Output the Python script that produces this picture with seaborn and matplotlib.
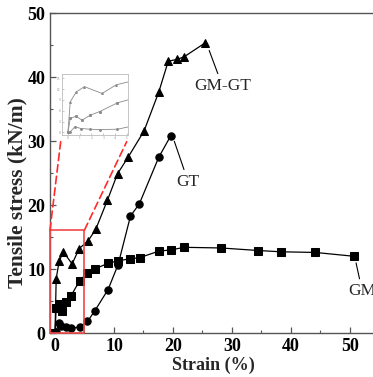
import matplotlib
matplotlib.use("Agg")
import matplotlib.pyplot as plt
import seaborn as sns
from matplotlib.patches import Rectangle, ConnectionPatch
from matplotlib.ticker import MultipleLocator

# GM-GT (triangles)
gmgt_x = [0, 0.2, 0.7, 1.4, 2.9, 4.1, 5.6, 6.9, 8.9, 10.6, 12.4, 15.1, 17.6, 19.2, 20.7, 21.9, 25.5]
gmgt_y = [0, 8.5, 11.2, 12.7, 10.8, 13.2, 14.4, 16.2, 20.8, 24.9, 27.5, 31.6, 37.7, 42.5, 42.8, 43.2, 45.4]
# GT (circles)
gt_x = [0.2, 0.6, 1.1, 1.9, 2.7, 4.2, 5.5, 6.7, 9.0, 10.7, 12.8, 14.3, 17.6, 19.6]
gt_y = [0.2, 1.6, 1.1, 0.9, 0.8, 0.9, 1.8, 3.4, 6.8, 10.7, 18.3, 20.2, 27.5, 30.8]
# GM (squares)
gm_x = [0, 0.2, 0.7, 1.2, 1.9, 2.7, 4.2, 5.5, 6.7, 9.0, 10.7, 12.8, 14.4, 17.6, 19.7,
        21.9, 28.1, 34.5, 38.3, 44.1, 50.7]
gm_y = [0, 3.9, 4.5, 3.4, 4.8, 5.8, 8.2, 9.4, 10.0, 10.9, 11.3, 11.6, 11.8, 12.8, 13.0,
        13.4, 13.3, 12.9, 12.7, 12.6, 12.0]

series = [
    ("GM-GT", gmgt_x, gmgt_y, "^"),
    ("GT", gt_x, gt_y, "o"),
    ("GM", gm_x, gm_y, "s"),
]

sns.set_style("ticks")
plt.rcParams["font.family"] = ["Liberation Serif", "DejaVu Serif"]

fig = plt.figure(figsize=(3.73, 3.77), dpi=100)
ax = fig.add_axes([50 / 373, 44 / 377, 327 / 373, 319.7 / 377])

for name, xs, ys, mk in series:
    sns.lineplot(x=xs, y=ys, ax=ax, color="black", marker=mk, markersize=5.3,
                 markeredgecolor="black", linewidth=0.9, estimator=None, sort=False)

ax.set_xlim(-0.85, 54.6)
ax.set_ylim(0, 50)
ax.xaxis.set_major_locator(MultipleLocator(10))
ax.xaxis.set_minor_locator(MultipleLocator(5))
ax.yaxis.set_major_locator(MultipleLocator(10))
ax.yaxis.set_minor_locator(MultipleLocator(5))
ax.tick_params(which="both", direction="in", colors="#555555", labelcolor="black")
ax.tick_params(which="major", length=4, width=0.9, labelsize=13)
ax.tick_params(which="minor", length=2.5, width=0.8)
for lab in ax.get_xticklabels() + ax.get_yticklabels():
    lab.set_fontweight("bold")
for sp in ax.spines.values():
    sp.set_color("#555555")
    sp.set_linewidth(1.0)

ax.set_xlabel("Strain (%)", fontsize=13, fontweight="bold", labelpad=1)
ax.set_ylabel("Tensile stress (kN/m)", fontsize=15.5, fontweight="bold")
ax.yaxis.set_label_coords(-0.068, 0.44)

# curve labels
arrow = dict(arrowstyle="-", color="black", lw=0.8, shrinkA=1, shrinkB=3)
ax.annotate("GM-GT", xy=(25.9, 44.8), xytext=(28.4, 38.6), ha="center", va="center",
            fontsize=12.5, arrowprops=arrow)
ax.annotate("GT", xy=(20.0, 30.6), xytext=(22.6, 23.6), ha="center", va="center",
            fontsize=12.5, arrowprops=arrow)
ax.annotate("GM", xy=(50.9, 11.6), xytext=(52.1, 6.5), ha="center", va="center",
            fontsize=12.5, arrowprops=arrow, annotation_clip=False)

# zoom box
box_x0, box_x1, box_y1 = -0.85, 5.0, 16.1
ax.add_patch(Rectangle((box_x0, 0), box_x1 - box_x0, box_y1, fill=False,
                       edgecolor="#f04848", linewidth=1.2, clip_on=False, zorder=5))

# inset
ins = ax.inset_axes([12 / 327, 198 / 319.7, 66 / 327, 61 / 319.7])
for name, xs, ys, mk in series:
    sns.lineplot(x=xs, y=ys, ax=ins, color="#8a8a8a", marker=mk, markersize=1.3,
                 markeredgecolor="#8a8a8a", linewidth=0.6, estimator=None, sort=False)
ins.set_xlim(-0.5, 5.1)
ins.set_ylim(-0.7, 16.2)
ins.set_xticks([0, 1, 2, 3, 4, 5])
ins.set_yticks([0, 3, 6, 9, 12, 15])
ins.tick_params(direction="in", length=1.2, width=0.4, labelsize=2.5, pad=1,
                colors="#999999", labelcolor="#888888")
for sp in ins.spines.values():
    sp.set_color("#bbbbbb")
    sp.set_linewidth(0.6)

for (bx, ix) in [(box_x0, -0.02), (box_x1, 0.98)]:
    con = ConnectionPatch(xyA=(bx, box_y1), coordsA=ax.transData,
                          xyB=(ix, -0.11), coordsB=ins.transAxes,
                          color="#ff2a2a", linestyle=(0, (4.5, 2.5)), linewidth=1.2)
    fig.add_artist(con)

fig.savefig("out.png", dpi=100)
